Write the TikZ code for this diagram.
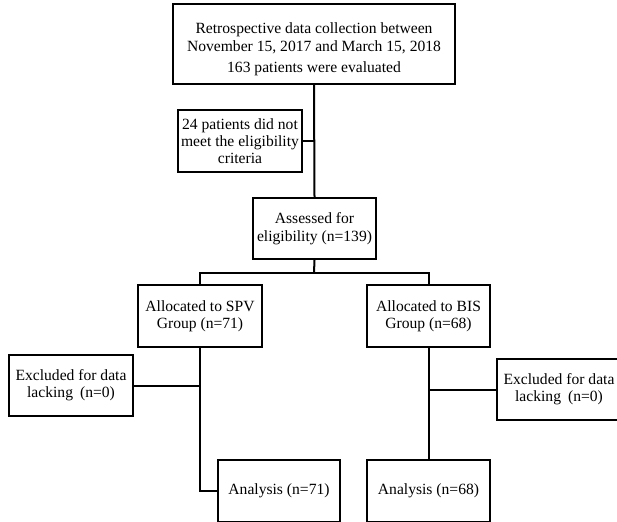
\documentclass[tikz,border=0pt]{standalone}
\usepackage{fontspec}
\setmainfont{Liberation Serif}
\begin{document}
\begin{tikzpicture}[x=1pt,y=-1pt,
  box/.style={draw, line width=2pt, inner sep=0pt, align=center, font=\fontsize{15.6}{17}\selectfont},
  conn/.style={line width=2pt}]
\useasboundingbox (0,0) rectangle (617,521);
\clip (0,0) rectangle (617,521);
\node[box, minimum width=282, minimum height=80, font=\fontsize{15.6}{18}\selectfont] (top) at (314,44)
  {\rule{0pt}{22pt}Retrospective data collection between\\November 15, 2017 and March 15, 2018\\[3pt]163 patients were evaluated};
\node[box, minimum width=124, minimum height=62] (inel) at (240,141)
  {24 patients did not\\meet the eligibility\\criteria};
\node[box, minimum width=123, minimum height=61, font=\fontsize{15.6}{18}\selectfont] (assess) at (314.5,228.5)
  {Assessed for\\eligibility (n=139)};
\node[box, minimum width=124, minimum height=62] (spv) at (200,316)
  {Allocated to SPV\\Group (n=71)};
\node[box, minimum width=123, minimum height=62] (bis) at (428.5,316)
  {Allocated to BIS\\Group (n=68)};
\node[box, minimum width=124, minimum height=61] (exL) at (71,385.5)
  {Excluded for data\\lacking\hspace{0.45em}(n=0)};
\node[box, minimum width=124, minimum height=61] (exR) at (559,389.5)
  {Excluded for data\\lacking\hspace{0.45em}(n=0)};
\node[box, minimum width=122, minimum height=62] (anL) at (279,491)
  {Analysis (n=71)};
\node[box, minimum width=123, minimum height=62] (anR) at (428.5,491)
  {Analysis (n=68)};
\coordinate (split) at (314,272.7);
\draw[conn] (top.south) -- (assess.north);
\draw[conn] (inel.east) -- (inel.east -| top.south);
\draw[conn] (assess.south) -- (split);
\draw[conn] (split) -| (spv.north);
\draw[conn] (split) -| (bis.north);
\draw[conn] (spv.south) |- (anL.west);
\draw[conn] (exL.east) -- (exL.east -| spv.south);
\draw[conn] (bis.south) -- (anR.north);
\draw[conn] (exR.west) -- (exR.west -| bis.south);
\end{tikzpicture}
\end{document}
